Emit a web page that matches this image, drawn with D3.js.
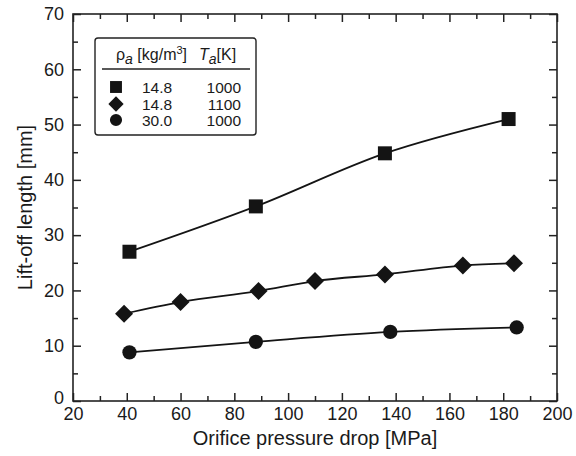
<!DOCTYPE html>
<html>
<head>
<meta charset="utf-8">
<script src="https://cdn.jsdelivr.net/npm/d3@7"></script>
<style>
  html, body { margin: 0; padding: 0; background: #fff; }
  svg { display: block; }
  text { font-family: "Liberation Sans", Arial, Helvetica, sans-serif; fill: #1a1a1a; }
</style>
</head>
<body>
<svg id="chart" width="576" height="456"></svg>
<script>
// ---- data ----
const squareX = [41, 88, 136, 182];
const squareY = [27.0, 35.2, 44.8, 51.0];
const diamondX = [39, 60, 89, 110, 136, 165, 184];
const diamondY = [15.8, 17.9, 19.9, 21.7, 22.9, 24.5, 24.9];
const circleX = [41, 88, 138, 185];
const circleY = [8.8, 10.7, 12.5, 13.3];
const xMajorTicks = [20, 40, 60, 80, 100, 120, 140, 160, 180, 200];
const xMinorTicks = [30, 50, 70, 90, 110, 130, 150, 170, 190];
const yMajorTicks = [0, 10, 20, 30, 40, 50, 60, 70];
const yMinorTicks = [5, 15, 25, 35, 45, 55, 65];
const legendRho = ["14.8", "14.8", "30.0"];
const legendT = ["1000", "1100", "1000"];

const svg = d3.select("#chart");
const L = 73, R = 557, T = 14, B = 401;
const x = d3.scaleLinear().domain([20, 200]).range([L, R]);
const y = d3.scaleLinear().domain([0, 70]).range([B, T]);
const ink = "#141414";

function styleAxis(g) {
  g.select(".domain").remove();
  g.selectAll("line").attr("stroke", "#222").attr("stroke-width", 1.5);
  g.selectAll("text").attr("font-size", 18).attr("fill", "#1a1a1a")
    .attr("font-family", '"Liberation Sans", Arial, Helvetica, sans-serif');
}

// bottom
svg.append("g").attr("transform", `translate(0,${B})`)
  .call(d3.axisBottom(x).tickValues(xMajorTicks).tickSizeInner(-8).tickSizeOuter(0).tickPadding(6).tickFormat(d3.format("d")))
  .call(styleAxis);
svg.append("g").attr("transform", `translate(0,${B})`)
  .call(d3.axisBottom(x).tickValues(xMinorTicks).tickSizeInner(-5).tickSizeOuter(0).tickFormat(""))
  .call(styleAxis);
// top
svg.append("g").attr("transform", `translate(0,${T})`)
  .call(d3.axisTop(x).tickValues(xMajorTicks).tickSizeInner(-8).tickSizeOuter(0).tickFormat(""))
  .call(styleAxis);
svg.append("g").attr("transform", `translate(0,${T})`)
  .call(d3.axisTop(x).tickValues(xMinorTicks).tickSizeInner(-5).tickSizeOuter(0).tickFormat(""))
  .call(styleAxis);
// left
const leftAxis = svg.append("g").attr("transform", `translate(${L},0)`)
  .call(d3.axisLeft(y).tickValues(yMajorTicks).tickSizeInner(-8).tickSizeOuter(0).tickPadding(9).tickFormat(d3.format("d")))
  .call(styleAxis);
leftAxis.selectAll(".tick").filter(d => d === 0).select("text").attr("y", -3);
svg.append("g").attr("transform", `translate(${L},0)`)
  .call(d3.axisLeft(y).tickValues(yMinorTicks).tickSizeInner(-5).tickSizeOuter(0).tickFormat(""))
  .call(styleAxis);
// right
svg.append("g").attr("transform", `translate(${R},0)`)
  .call(d3.axisRight(y).tickValues(yMajorTicks).tickSizeInner(-8).tickSizeOuter(0).tickFormat(""))
  .call(styleAxis);
svg.append("g").attr("transform", `translate(${R},0)`)
  .call(d3.axisRight(y).tickValues(yMinorTicks).tickSizeInner(-5).tickSizeOuter(0).tickFormat(""))
  .call(styleAxis);

// frame
svg.append("rect").attr("x", L).attr("y", T).attr("width", R - L).attr("height", B - T)
  .attr("fill", "none").attr("stroke", "#222").attr("stroke-width", 1.6);

// axis titles
svg.append("text").attr("x", (L + R) / 2).attr("y", 445).attr("text-anchor", "middle")
  .attr("font-size", 20).text("Orifice pressure drop [MPa]");
svg.append("text").attr("transform", `translate(32,${(T + B) / 2}) rotate(-90)`)
  .attr("text-anchor", "middle").attr("font-size", 20).text("Lift-off length [mm]");

// series
const series = [
  { xs: squareX, ys: squareY, sym: d3.symbolSquare, size: 196 },
  { xs: diamondX, ys: diamondY, sym: "diamond", size: 0 },
  { xs: circleX, ys: circleY, sym: d3.symbolCircle, size: 160 }
];
const line = d3.line().x(d => x(d[0])).y(d => y(d[1])).curve(d3.curveMonotoneX);

function diamondPath(r) { return `M0,${-r}L${r},0L0,${r}L${-r},0Z`; }
function markerPath(s, scale) {
  if (s.sym === "diamond") return diamondPath(9 * scale);
  return d3.symbol().type(s.sym).size(s.size * scale * scale)();
}

series.forEach(s => {
  const pts = s.xs.map((v, i) => [v, s.ys[i]]);
  svg.append("path").datum(pts).attr("d", line).attr("fill", "none")
    .attr("stroke", ink).attr("stroke-width", 1.8);
  svg.append("g").selectAll("path").data(pts).join("path")
    .attr("transform", d => `translate(${x(d[0])},${y(d[1])})`)
    .attr("d", markerPath(s, 1)).attr("fill", ink);
});

// legend
const lg = svg.append("g");
lg.append("rect").attr("x", 95).attr("y", 38).attr("width", 161).attr("height", 97)
  .attr("rx", 3).attr("fill", "#fff").attr("stroke", "#222").attr("stroke-width", 1.4);
const hdr = lg.append("text").attr("x", 116).attr("y", 60).attr("font-size", 16);
hdr.append("tspan").text("\u03C1");
hdr.append("tspan").attr("font-style", "italic").attr("dy", 4).attr("font-size", 14).text("a");
hdr.append("tspan").attr("dy", -4).attr("font-size", 16).text(" [kg/m");
hdr.append("tspan").attr("dy", -6).attr("font-size", 11).text("3");
hdr.append("tspan").attr("dy", 6).attr("font-size", 16).text("]");
const hdr2 = lg.append("text").attr("x", 199).attr("y", 60).attr("font-size", 16);
hdr2.append("tspan").attr("font-style", "italic").text("T");
hdr2.append("tspan").attr("font-style", "italic").attr("dy", 4).attr("font-size", 14).text("a");
hdr2.append("tspan").attr("dy", -4).attr("font-size", 16).text("[K]");
lg.append("line").attr("x1", 102).attr("x2", 250).attr("y1", 69).attr("y2", 69)
  .attr("stroke", "#222").attr("stroke-width", 1.4);
const rowY = [87, 104, 120];
series.forEach((s, i) => {
  lg.append("path").attr("transform", `translate(116,${rowY[i]})`)
    .attr("d", markerPath(s, 0.85)).attr("fill", ink);
  lg.append("text").attr("x", 142).attr("y", rowY[i] + 5.5).attr("font-size", 15.5).text(legendRho[i]);
  lg.append("text").attr("x", 241).attr("y", rowY[i] + 5.5).attr("font-size", 15.5)
    .attr("text-anchor", "end").text(legendT[i]);
});
</script>
</body>
</html>
